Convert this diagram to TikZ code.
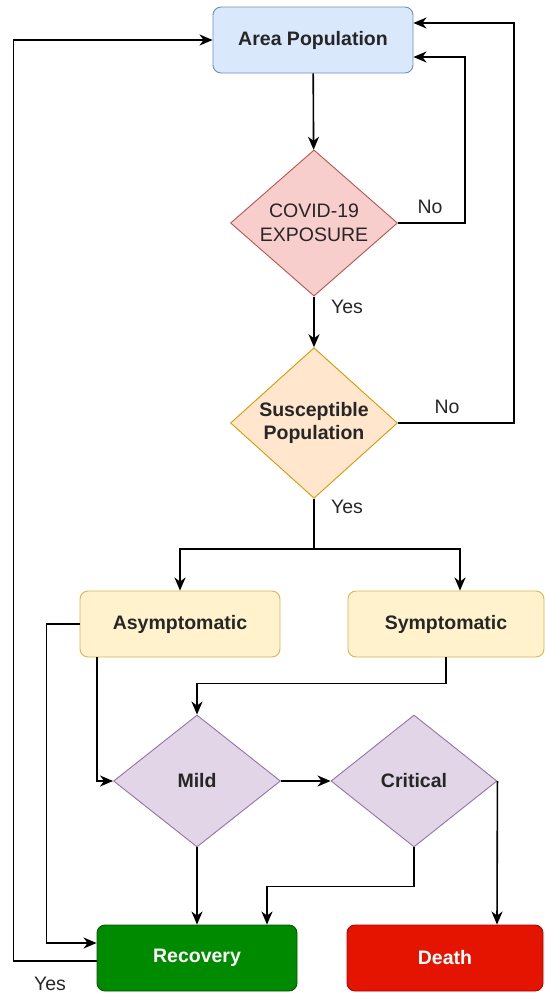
\documentclass[tikz,border=0pt]{standalone}
\usepackage{fontspec}
\setmainfont{Liberation Sans}
\usetikzlibrary{shapes.geometric,arrows.meta}

\definecolor{blueF}{HTML}{DAE8FC}\definecolor{blueD}{HTML}{6C8EBF}
\definecolor{redF}{HTML}{F8CECC}\definecolor{redD}{HTML}{B85450}
\definecolor{orangeF}{HTML}{FFE6CC}\definecolor{orangeD}{HTML}{D79B00}
\definecolor{yellowF}{HTML}{FFF2CC}\definecolor{yellowD}{HTML}{D6B656}
\definecolor{purpleF}{HTML}{E1D5E7}\definecolor{purpleD}{HTML}{9673A6}
\definecolor{greenF}{HTML}{008A00}\definecolor{greenD}{HTML}{005700}
\definecolor{deathF}{HTML}{E51400}\definecolor{deathD}{HTML}{B20000}
\definecolor{ink}{HTML}{262626}

\begin{document}
\begin{tikzpicture}[x=1pt, y=-1pt,
    font=\fontsize{19.5}{23}\selectfont,
    box/.style={rectangle, rounded corners=8pt, draw, line width=0.9pt,
      minimum width=200pt, minimum height=66pt, inner sep=0pt,
      text=ink, font=\fontsize{19.5}{23}\selectfont\bfseries},
    decision/.style={diamond, draw, line width=0.9pt, minimum width=167pt,
      minimum height=132pt, inner sep=0pt, align=center, text=ink,
      font=\fontsize{19.5}{23}\selectfont\bfseries},
    lbl/.style={text=ink, inner sep=0pt},
    arr/.style={-{Stealth[length=13pt,width=11pt,inset=4pt]}, line width=1.6pt},
    link/.style={line width=1.6pt}]
  \useasboundingbox (0,0) rectangle (545,993);
  % Top of the chart
  \node[box, fill=blueF, draw=blueD]                     (area)  at (313,40)  {Area Population};
  \node[decision, fill=redF, draw=redD, font=\fontsize{19.5}{24}\selectfont] (covid) at (314,223) {COVID-19\\EXPOSURE};
  \node[decision, fill=orangeF, draw=orangeD, minimum height=134pt] (sus) at (314,423) {Susceptible\\Population};
  % Middle row
  \node[box, fill=yellowF, draw=yellowD]                  (asym)  at (180,624) {Asymptomatic};
  \node[box, fill=yellowF, draw=yellowD, minimum width=196pt] (sym) at (446,624) {Symptomatic};
  \node[decision, fill=purpleF, draw=purpleD]             (mild)  at (197,781) {Mild};
  \node[decision, fill=purpleF, draw=purpleD, minimum width=166pt] (crit) at (414,781) {Critical};
  % Outcomes
  \node[box, fill=greenF, draw=greenD, text=white]        (rec)   at (197,958) {Recovery};
  \node[box, fill=deathF, draw=deathD, text=white, minimum width=196pt] (death) at (445,958) {Death};
  % Branch labels
  \node[lbl] (no1)  at (430,207) {No};
  \node[lbl] (yes1) at (347,307) {Yes};
  \node[lbl] (no2)  at (447,407) {No};
  \node[lbl] (yes2) at (347,507) {Yes};
  \node[lbl] (yes3) at (50,984)  {Yes};
  % Main column
  \draw[arr] (area) -- (covid);
  \draw[arr] (covid) -- (sus);
  \draw[arr] (covid.east) -- ++(67,0) |- ([yshift=-17pt]area.east);
  \draw[arr] (sus.east) -- ++(116,0) |- ([yshift=17pt]area.east);
  % Split into the two groups
  \draw[link] (sus.south) -- ++(0,50) coordinate (split);
  \draw[arr] (split) -| (asym.north);
  \draw[arr] (split) -| ([xshift=14pt]sym.north);
  % Severity
  \draw[arr] (sym.south) -- ++(0,26) -| (mild.north);
  \draw[arr] ([xshift=-83pt]asym.south) |- (mild.west);
  \draw[arr] (asym.west) -- ++(-33,0) |- ([yshift=15pt]rec.west);
  \draw[arr] (mild) -- (crit);
  \draw[arr] (mild) -- (rec);
  \draw[arr] (crit.south) -- ++(0,39) -| ([xshift=70pt]rec.north);
  \draw[arr] (crit.east) -- ([xshift=52pt]death.north);
  % Back to the population
  \draw[arr] ([yshift=-3pt]rec.west) -- ++(-83,0) |- (area.west);
\end{tikzpicture}
\end{document}
